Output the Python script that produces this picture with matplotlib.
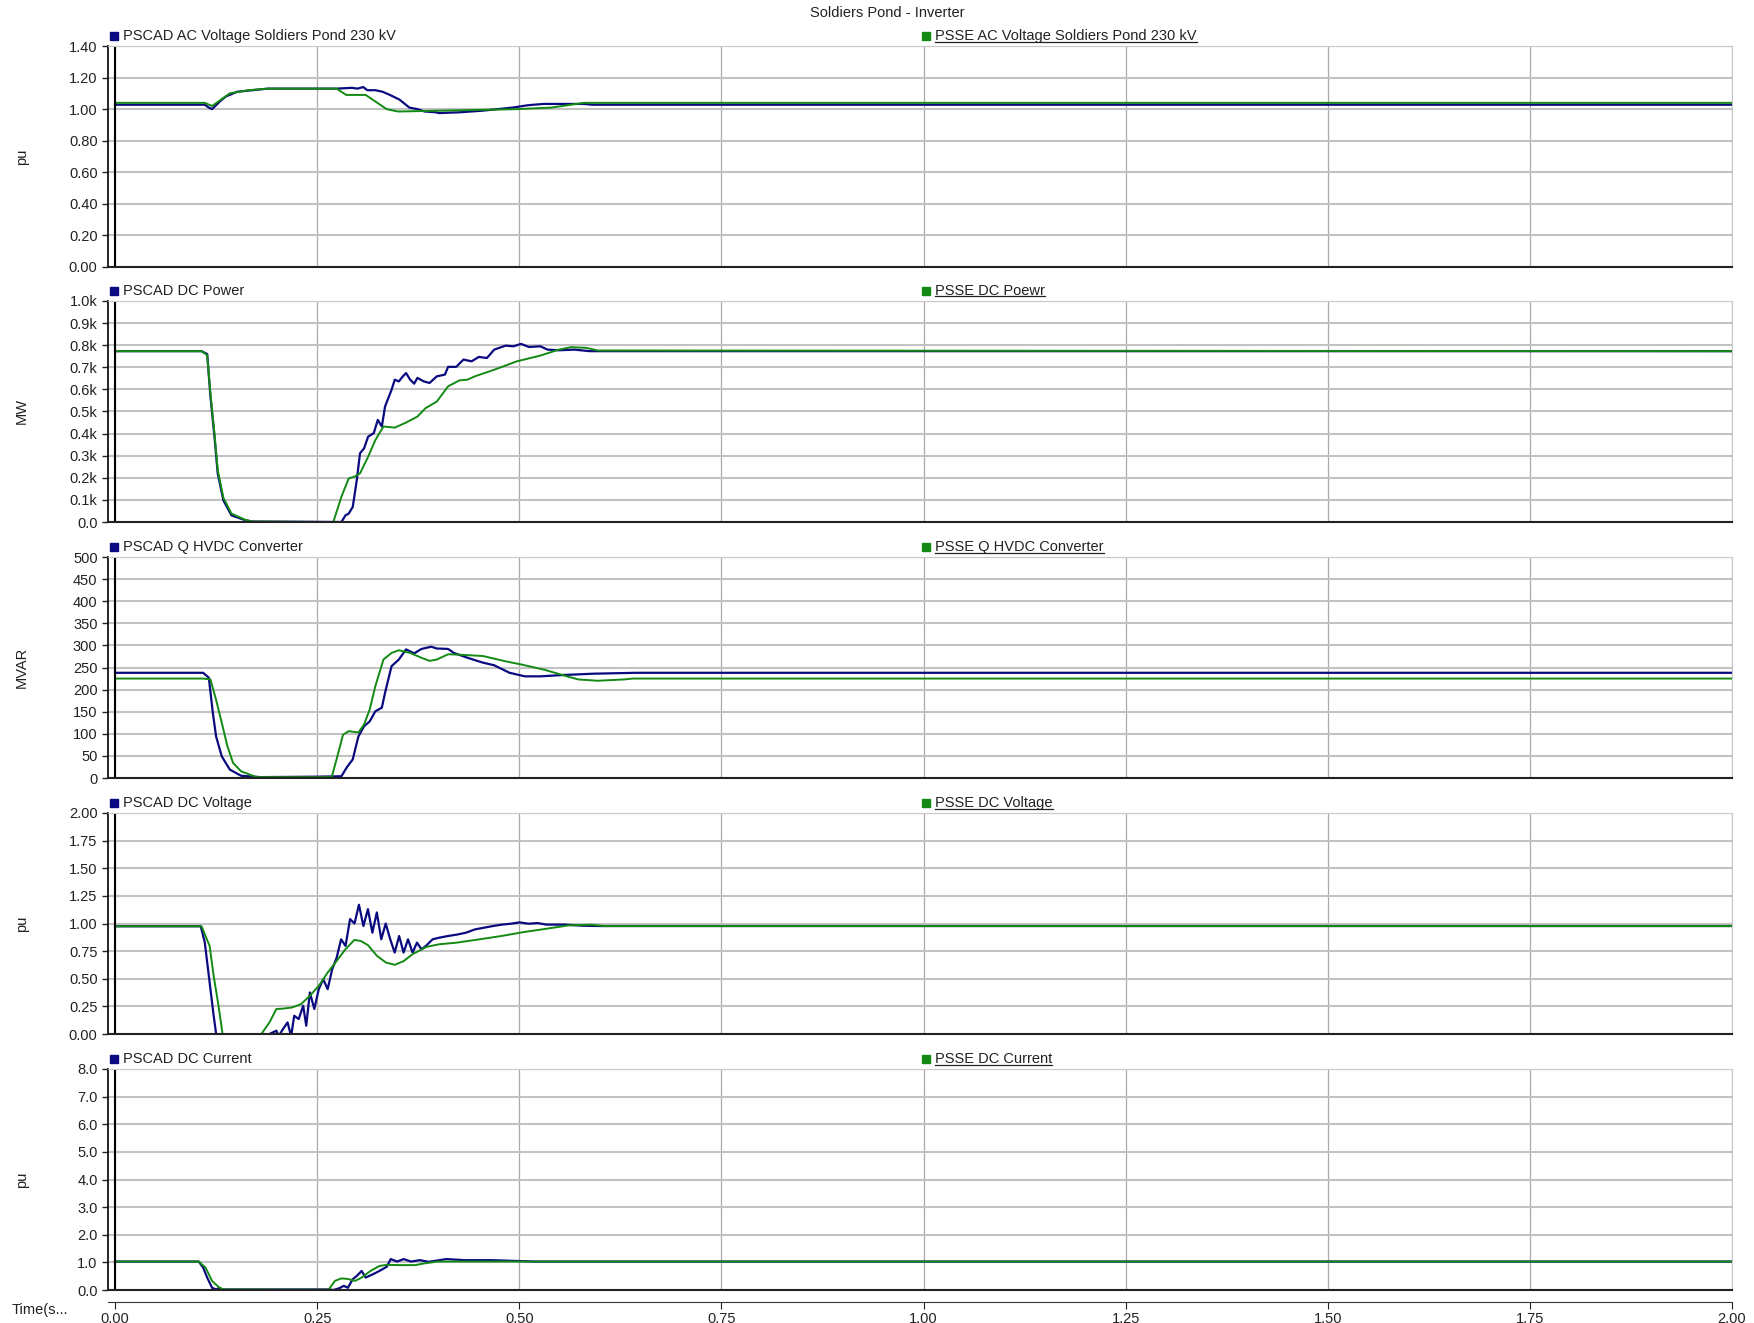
import matplotlib
matplotlib.use("Agg")
from matplotlib import pyplot as plt
from matplotlib.lines import Line2D
import numpy as np

plt.rcParams['font.family'] = ['Liberation Sans', 'DejaVu Sans']
plt.rcParams['font.size'] = 10

title = "Soldiers Pond - Inverter"

# panel 1 - AC voltage (pu)
ac_pscad_t = [0.0, 0.111, 0.116, 0.12, 0.13, 0.137, 0.151, 0.17, 0.189, 0.274, 0.293, 0.30, 0.307,
              0.312, 0.322, 0.331, 0.34, 0.352, 0.364, 0.374, 0.383, 0.397, 0.40, 0.426, 0.44,
              0.454, 0.473, 0.492, 0.511, 0.53, 0.58, 0.59, 2.0]
ac_pscad_v = [1.028, 1.028, 1.01, 1.0, 1.05, 1.08, 1.11, 1.12, 1.13, 1.13, 1.135, 1.13, 1.14,
              1.12, 1.12, 1.11, 1.09, 1.06, 1.01, 1.0, 0.985, 0.98, 0.975, 0.98, 0.985,
              0.99, 1.0, 1.01, 1.025, 1.033, 1.033, 1.028, 1.028]
ac_psse_t = [0.0, 0.111, 0.12, 0.142, 0.165, 0.19, 0.274, 0.286, 0.31, 0.336, 0.35, 0.40, 0.497,
             0.54, 0.58, 2.0]
ac_psse_v = [1.04, 1.04, 1.02, 1.10, 1.12, 1.13, 1.13, 1.09, 1.09, 1.0, 0.985, 0.99, 1.0,
             1.01, 1.04, 1.04]

# panel 2 - DC power (MW)
p_pscad_t = [0.0, 0.107, 0.114, 0.118, 0.123, 0.127, 0.134, 0.144, 0.161, 0.17, 0.280, 0.285,
             0.289, 0.294, 0.299, 0.303, 0.308, 0.313, 0.320, 0.325, 0.330, 0.334, 0.342, 0.346,
             0.351, 0.356, 0.360, 0.365, 0.370, 0.374, 0.382, 0.389, 0.398, 0.408, 0.412, 0.422,
             0.431, 0.441, 0.450, 0.460, 0.469, 0.483, 0.493, 0.502, 0.512, 0.526, 0.535, 0.549,
             0.568, 0.587, 2.0]
p_pscad_v = [773, 773, 760, 568, 386, 220, 98, 30, 8, 2, 0, 30,
             38, 68, 189, 311, 333, 386, 402, 462, 432, 523, 598, 644,
             636, 659, 674, 644, 626, 652, 636, 629, 659, 667, 702, 702,
             735, 727, 747, 742, 780, 798, 795, 806, 792, 795, 780, 777,
             780, 773, 773]
p_psse_t = [0.0, 0.107, 0.114, 0.118, 0.123, 0.127, 0.134, 0.144, 0.161, 0.17, 0.270, 0.280,
            0.289, 0.296, 0.303, 0.313, 0.322, 0.332, 0.346, 0.360, 0.374, 0.384, 0.398, 0.412,
            0.426, 0.436, 0.445, 0.469, 0.497, 0.526, 0.549, 0.564, 0.583, 0.597, 2.0]
p_psse_v = [773, 773, 755, 580, 400, 235, 110, 38, 10, 2, 0, 114,
            197, 205, 220, 295, 371, 432, 427, 450, 477, 515, 545, 614,
            641, 644, 659, 689, 727, 753, 780, 791, 788, 776, 773]

# panel 3 - Q HVDC converter (MVAR)
q_pscad_t = [0.0, 0.109, 0.116, 0.121, 0.125, 0.132, 0.142, 0.156, 0.180, 0.251, 0.280, 0.287,
             0.294, 0.301, 0.308, 0.315, 0.322, 0.330, 0.334, 0.342, 0.351, 0.360, 0.370, 0.379,
             0.391, 0.398, 0.412, 0.419, 0.436, 0.455, 0.469, 0.488, 0.507, 0.526, 0.554, 0.592,
             0.644, 2.0]
q_pscad_v = [238, 238, 227, 147, 94, 49, 19, 5, 2, 3, 4, 25,
             42, 94, 117, 128, 151, 159, 193, 253, 268, 291, 282, 292,
             297, 293, 292, 283, 272, 261, 255, 238, 230, 230, 233, 236,
             238, 238]
q_psse_t = [0.0, 0.109, 0.118, 0.125, 0.132, 0.139, 0.146, 0.156, 0.175, 0.268, 0.275, 0.282,
            0.289, 0.301, 0.308, 0.315, 0.322, 0.332, 0.342, 0.351, 0.365, 0.379, 0.389, 0.398,
            0.412, 0.426, 0.455, 0.483, 0.502, 0.531, 0.559, 0.573, 0.597, 0.630, 0.64, 2.0]
q_psse_v = [225, 225, 223, 177, 125, 72, 34, 15, 2, 2, 49, 98,
            106, 103, 121, 155, 208, 268, 283, 289, 283, 272, 265, 268,
            280, 279, 276, 264, 257, 245, 230, 223, 220, 223, 225, 225]

# panel 4 - DC voltage (pu)
vdc_pscad_t = [0.0, 0.106, 0.111, 0.117, 0.122, 0.126, 0.172, 0.191, 0.1996, 0.2023, 0.2078,
               0.2134, 0.2178, 0.2216, 0.2272, 0.2327, 0.2365, 0.2410, 0.2465, 0.2520, 0.2575,
               0.2630, 0.2686, 0.2741, 0.2796, 0.2851, 0.2907, 0.2962, 0.3017, 0.3072, 0.3128,
               0.3183, 0.3238, 0.3293, 0.3348, 0.3404, 0.3459, 0.3514, 0.3569, 0.3624, 0.3680,
               0.3735, 0.3790, 0.3845, 0.3928, 0.4011, 0.4121, 0.4232, 0.4342, 0.4453, 0.4563,
               0.4674, 0.4784, 0.4895, 0.5005, 0.5115, 0.5226, 0.5336, 0.5557, 0.5778, 0.5999, 2.0]
vdc_pscad_v = [0.975, 0.975, 0.83, 0.466, 0.165, -0.05, -0.05, 0.0, 0.03, -0.02, 0.045,
               0.105, -0.02, 0.165, 0.135, 0.256, 0.075, 0.376, 0.226, 0.406, 0.496,
               0.406, 0.586, 0.69, 0.857, 0.797, 1.04, 1.0, 1.17, 0.977, 1.13,
               0.917, 1.10, 0.857, 1.0, 0.857, 0.737, 0.887, 0.737, 0.857, 0.737,
               0.827, 0.767, 0.797, 0.857, 0.872, 0.887, 0.90, 0.917, 0.947, 0.962,
               0.977, 0.99, 0.998, 1.01, 0.998, 1.004, 0.99, 0.99, 0.98, 0.977, 0.977]
vdc_psse_t = [0.0, 0.107, 0.117, 0.122, 0.128, 0.133, 0.181, 0.191, 0.1996, 0.208, 0.219, 0.230,
              0.241, 0.252, 0.263, 0.274, 0.285, 0.296, 0.304, 0.313, 0.324, 0.335, 0.346, 0.357,
              0.368, 0.385, 0.401, 0.423, 0.451, 0.478, 0.506, 0.534, 0.561, 0.589, 0.605, 2.0]
vdc_psse_v = [0.975, 0.975, 0.797, 0.526, 0.256, 0.0, 0.0, 0.105, 0.226, 0.23, 0.24, 0.27,
              0.346, 0.436, 0.556, 0.66, 0.767, 0.851, 0.842, 0.803, 0.707, 0.647, 0.626, 0.66,
              0.722, 0.788, 0.812, 0.827, 0.857, 0.887, 0.923, 0.953, 0.983, 0.989, 0.977, 0.977]

# panel 5 - DC current (pu)
idc_pscad_t = [0.0, 0.1035, 0.109, 0.114, 0.120, 0.125, 0.128, 0.134, 0.266, 0.270, 0.277, 0.283,
               0.288, 0.294, 0.299, 0.305, 0.310, 0.319, 0.327, 0.336, 0.341, 0.349, 0.357, 0.366,
               0.377, 0.388, 0.410, 0.432, 0.465, 0.520, 2.0]
idc_pscad_v = [1.03, 1.03, 0.81, 0.45, 0.08, 0.02, 0.06, 0.02, 0.02, 0.0, 0.06, 0.15,
               0.08, 0.39, 0.51, 0.69, 0.45, 0.57, 0.69, 0.84, 1.12, 1.03, 1.12, 1.03,
               1.08, 1.02, 1.12, 1.08, 1.08, 1.03, 1.03]
idc_psse_t = [0.0, 0.1035, 0.112, 0.120, 0.128, 0.134, 0.264, 0.272, 0.280, 0.288, 0.297, 0.305,
              0.316, 0.327, 0.336, 0.355, 0.371, 0.382, 0.399, 2.0]
idc_psse_v = [1.03, 1.03, 0.81, 0.33, 0.11, 0.02, 0.01, 0.33, 0.42, 0.40, 0.33, 0.45,
              0.69, 0.87, 0.91, 0.90, 0.90, 0.96, 1.03, 1.03]

panel_names = [("PSCAD AC Voltage Soldiers Pond 230 kV", "PSSE AC Voltage Soldiers Pond 230 kV"),
               ("PSCAD DC Power", "PSSE DC Poewr"),
               ("PSCAD Q HVDC Converter", "PSSE Q HVDC Converter"),
               ("PSCAD DC Voltage", "PSSE DC Voltage"),
               ("PSCAD DC Current", "PSSE DC Current")]
ylabels = ["pu", "MW", "MVAR", "pu", "pu"]
yticks = [np.arange(0, 1.41, 0.2), np.arange(0, 1001, 100), np.arange(0, 501, 50),
          np.arange(0, 2.01, 0.25), np.arange(0, 8.01, 1.0)]
ytick_labels = [["%.2f" % v for v in yticks[0]],
                ["0.0"] + ["%.1fk" % (v / 1000) for v in yticks[1][1:]],
                ["%d" % v for v in yticks[2]],
                ["%.2f" % v for v in yticks[3]],
                ["%.1f" % v for v in yticks[4]]]
xticks = np.arange(0, 2.01, 0.25)
xtick_labels = ["%.2f" % v for v in xticks]

series = [(ac_pscad_t, ac_pscad_v, ac_psse_t, ac_psse_v),
          (p_pscad_t, p_pscad_v, p_psse_t, p_psse_v),
          (q_pscad_t, q_pscad_v, q_psse_t, q_psse_v),
          (vdc_pscad_t, vdc_pscad_v, vdc_psse_t, vdc_psse_v),
          (idc_pscad_t, idc_pscad_v, idc_psse_t, idc_psse_v)]

blue = "#0a0a80"
green = "#138a13"

W, H = 1754, 1323
fig = plt.figure(figsize=(W / 100, H / 100), dpi=100)
left = 108 / W
width = 1624 / W
tops = [46, 301, 557, 813, 1069]
ph = 221

underline_texts = []
for i in range(5):
    ax = fig.add_axes([left, 1 - (tops[i] + ph) / H, width, ph / H])
    t1, v1, t2, v2 = series[i]
    ax.plot(t1, v1, color=blue, lw=1.6)
    ax.plot(t2, v2, color=green, lw=1.4)
    ax.set_xlim(-0.0087, 2.0)
    ax.set_ylim(yticks[i][0], yticks[i][-1])
    ax.set_yticks(yticks[i])
    ax.set_yticklabels(ytick_labels[i])
    ax.set_xticks(xticks)
    ax.tick_params(axis='x', length=0, labelbottom=False)
    ax.tick_params(axis='y', length=4, width=1, colors='#222222', labelsize=10.5)
    ax.grid(axis='y', color='#c2c2c2', lw=1.5)
    ax.grid(axis='x', color='#aaaaaa', lw=0.9)
    ax.set_axisbelow(True)
    ax.axvline(0, color='black', lw=1.5)
    for s in ['top', 'right']:
        ax.spines[s].set_color('#c8c8c8')
    ax.spines['left'].set_color('black')
    ax.spines['left'].set_linewidth(1.2)
    ax.spines['bottom'].set_color('#222222')
    ax.spines['bottom'].set_linewidth(1.5)
    ax.set_ylabel(ylabels[i], fontsize=10.5, color='#222222')
    ax.yaxis.set_label_coords(-79 / 1624, 0.5)

    # legend entries above panel
    ly = 1 + 10 / ph
    ax.plot([6 / 1624], [ly], marker='s', ms=5.5, color=blue, transform=ax.transAxes,
            clip_on=False)
    ax.text(15 / 1624, ly, panel_names[i][0], transform=ax.transAxes, va='center',
            ha='left', fontsize=10.5, color='#222222')
    ax.plot([818 / 1624], [ly], marker='s', ms=5.5, color=green, transform=ax.transAxes,
            clip_on=False)
    ut = ax.text(827 / 1624, ly, panel_names[i][1], transform=ax.transAxes, va='center',
                 ha='left', fontsize=10.5, color='#222222')
    underline_texts.append(ut)

# separate time axis
tax = fig.add_axes([left, 1 - 1302 / H, width, 0.0001])
tax.set_xlim(-0.0087, 2.0)
tax.set_yticks([])
for s in ['top', 'right', 'left']:
    tax.spines[s].set_visible(False)
tax.spines['bottom'].set_color('#333333')
tax.patch.set_alpha(0)
tax.set_xticks(xticks)
tax.set_xticklabels(xtick_labels)
tax.tick_params(axis='x', length=5, colors='#222222', labelsize=10.5, pad=2)
fig.text(40 / W, 1 - 1310 / H, "Time(s...", ha='center', va='center', fontsize=10.5,
         color='#222222')

fig.text(887 / W, 1 - 13 / H, title, ha='center', va='center', fontsize=10.5, color='#222222')

fig.canvas.draw()
renderer = fig.canvas.get_renderer()
inv = fig.transFigure.inverted()
for ut in underline_texts:
    bb = ut.get_window_extent(renderer)
    (x0, y0), (x1, _) = inv.transform([(bb.x0, bb.y0 + 1.5), (bb.x1, bb.y0 + 1.5)])
    fig.add_artist(Line2D([x0, x1], [y0, y0], transform=fig.transFigure, color='#222222',
                          lw=0.9))

fig.savefig("out.png", dpi=100)
